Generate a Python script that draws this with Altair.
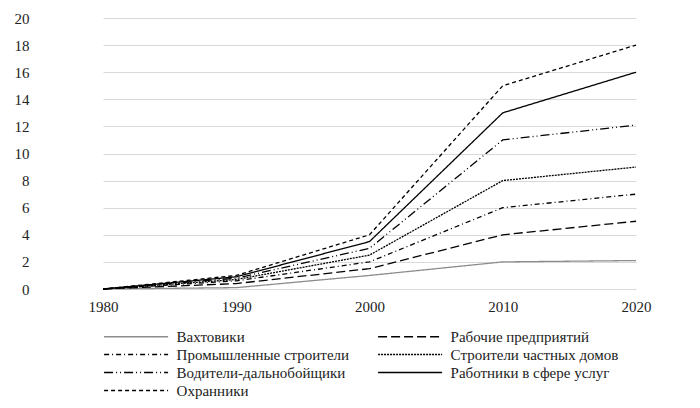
import altair as alt
import pandas as pd

years = ["1980", "1990", "2000", "2010", "2020"]
series = [
    "Вахтовики",
    "Рабочие предприятий",
    "Промышленные строители",
    "Строители частных домов",
    "Водители-дальнобойщики",
    "Работники в сфере услуг",
    "Охранники",
]
values = {
    "Вахтовики": [0, 0.1, 1, 2, 2.1],
    "Рабочие предприятий": [0, 0.4, 1.5, 4, 5],
    "Промышленные строители": [0, 0.6, 2, 6, 7],
    "Строители частных домов": [0, 0.7, 2.5, 8, 9],
    "Водители-дальнобойщики": [0, 0.8, 3, 11, 12.1],
    "Работники в сфере услуг": [0, 0.9, 3.5, 13, 16],
    "Охранники": [0, 1.0, 4, 15, 18],
}
colors = ["#8c8c8c", "#000000", "#000000", "#000000", "#000000", "#000000", "#000000"]
dashes = [[1, 0], [9, 4], [5, 3, 1, 3], [2, 1], [9, 3, 1, 3, 1, 3], [1, 0], [4, 3]]

rows = []
for s in series:
    for y, v in zip(years, values[s]):
        rows.append({"year": y, "series": s, "value": v})
df = pd.DataFrame(rows)

font = "Liberation Serif"

chart = alt.Chart(df).mark_line(strokeWidth=1.3).encode(
    x=alt.X("year:O", sort=years,
            scale=alt.Scale(type="point", range=[67, 600], padding=0),
            axis=alt.Axis(title=None, labelAngle=0, ticks=False, domain=False,
                          labelFont=font, labelFontSize=15, labelColor="#222",
                          labelPadding=10)),
    y=alt.Y("value:Q", scale=alt.Scale(domain=[0, 20]),
            axis=alt.Axis(title=None, values=list(range(0, 21, 2)), ticks=False,
                          domain=False, gridColor="#d9d9d9", gridWidth=1,
                          labelFont=font, labelFontSize=15, labelColor="#222",
                          labelPadding=7)),
    color=alt.Color("series:N", sort=series,
                    scale=alt.Scale(domain=series, range=colors),
                    legend=alt.Legend(title=None, orient="none", legendX=67, legendY=311,
                                      columns=2, direction="horizontal",
                                      symbolType="M-5,0H5", symbolSize=164,
                                      symbolStrokeWidth=1.3, labelFont=font,
                                      labelFontSize=15, labelColor="#222",
                                      labelLimit=400,
                                      columnPadding=25, rowPadding=2, padding=0,
                                      labelOffset=33, symbolOffset=25.6)),
    strokeDash=alt.StrokeDash("series:N", sort=series,
                              scale=alt.Scale(domain=series, range=dashes),
                              legend=None),
).properties(
    width=656, height=271,
    autosize=alt.AutoSizeParams(type="none"),
    padding={"left": 28, "top": 10, "right": 0, "bottom": 111},
).configure_view(stroke=None)

chart.save("out.html", embed_options={"renderer": "svg", "actions": False})
